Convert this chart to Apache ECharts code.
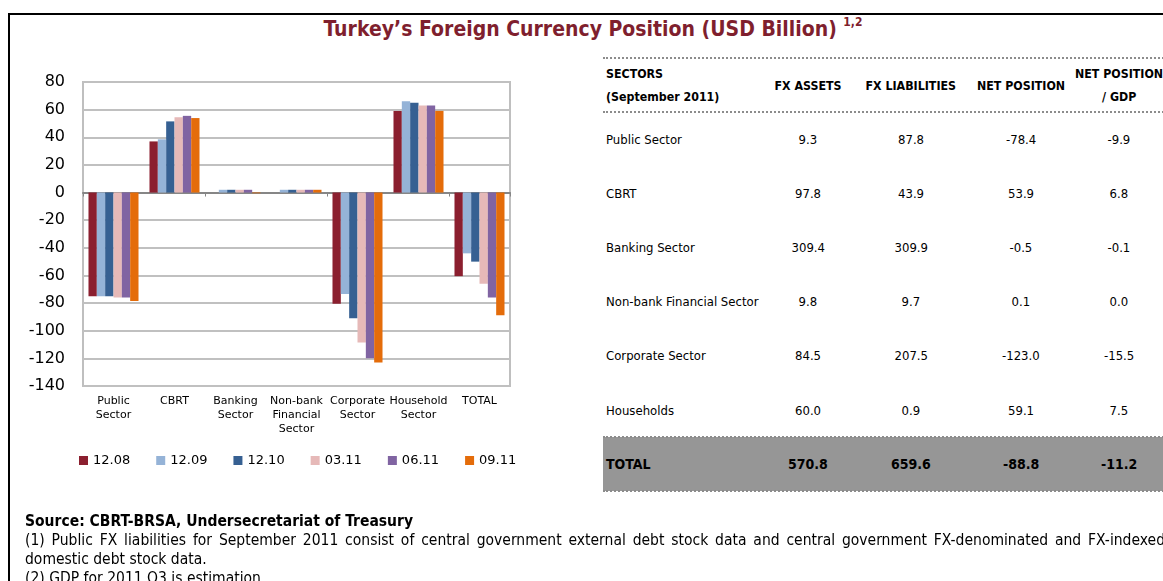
<!DOCTYPE html>
<html>
<head>
<meta charset="utf-8">
<script src="https://cdn.jsdelivr.net/npm/echarts@6/dist/echarts.min.js"></script>
<style>
  html, body { margin: 0; padding: 0; background: #fff; }
  #page { position: relative; width: 1163px; height: 581px; overflow: hidden; }
  #frame { position: absolute; left: 8px; top: 13px; width: 1300px; height: 700px;
    border-top: 2px solid #000; border-left: 2px solid #000; }
  #title { position: absolute; left: 0; width: 1186px; top: 17px; text-align: center;
    font: bold 21px 'DejaVu Sans Condensed', sans-serif; color: #7f1f2e; }
  #title sup { font-size: 12px; position: relative; top: -2px; }
  #chart { position: absolute; left: 0; top: 0; width: 600px; height: 581px; }
  .cell { position: absolute; font: 13px 'DejaVu Sans Condensed', sans-serif; color: #000; white-space: nowrap; }
  .hd { font: bold 12.3px 'DejaVu Sans Condensed', sans-serif; }
  .tot { font: bold 14px 'DejaVu Sans Condensed', sans-serif; }
  .hline { position: absolute; left: 603px; width: 600px; border-top: 2px dotted #8c8c8c; }
  #totalBand { position: absolute; left: 603px; top: 437px; width: 600px; height: 54px; background: #969696; }
  #notes { position: absolute; left: 25px; top: 512px; width: 1140px;
    font: 15.5px 'DejaVu Sans Condensed', sans-serif; line-height: 19px; color: #000; text-align: justify; }
  #notes b { font-weight: bold; }
</style>
</head>
<body>
<div id="page">
  <div id="frame"></div>
  <div id="title">Turkey’s Foreign Currency Position (USD Billion) <sup>1,2</sup></div>
  <div id="chart"></div>
  <div id="totalBand"></div>
  <div id="table"></div>
  <div id="notes">
    <b>Source: CBRT-BRSA, Undersecretariat of Treasury</b><br>
    (1) Public FX liabilities for September 2011 consist of central government external debt stock data and central government FX-denominated and FX-indexed domestic debt stock data.<br>
    (2) GDP for 2011 Q3 is estimation
  </div>
</div>
<script>
// chart data
const categories = ['Public\nSector', 'CBRT', 'Banking\nSector', 'Non-bank\nFinancial\nSector', 'Corporate\nSector', 'Household\nSector', 'TOTAL']
const periods = ['12.08', '12.09', '12.10', '03.11', '06.11', '09.11']
const s1208 = [-75, 37, 0, 0, -80.5, 59, -60.5]
const s1209 = [-75, 38.5, 2, 2, -73.5, 66, -44]
const s1210 = [-75, 51.5, 2, 2, -91, 65, -50]
const s0311 = [-76, 54.5, 2, 2, -108.5, 63, -66]
const s0611 = [-76, 55.5, 2, 2, -120, 63, -76]
const s0911 = [-78.4, 53.9, -0.5, 2, -123, 59.1, -88.8]
const yTicks = { min: -140, max: 80, step: 20 }
const colors = ['#8b1f2f', '#95b3d7', '#366092', '#e6b9b8', '#8064a2', '#e46c0a']

// table data
const sectors = ['Public Sector', 'CBRT', 'Banking Sector', 'Non-bank Financial Sector', 'Corporate Sector', 'Households']
const fxAssets = [9.3, 97.8, 309.4, 9.8, 84.5, 60.0]
const fxLiabilities = [87.8, 43.9, 309.9, 9.7, 207.5, 0.9]
const netPosition = [-78.4, 53.9, -0.5, 0.1, -123.0, 59.1]
const netToGdp = [-9.9, 6.8, -0.1, 0.0, -15.5, 7.5]
const totals = [570.8, 659.6, -88.8, -11.2]

const seriesValues = [s1208, s1209, s1210, s0311, s0611, s0911]

const myChart = echarts.init(document.getElementById('chart'))
const option = {
  color: colors,
  animation: false,
  grid: {
    left: 83,
    right: 90,
    top: 82,
    bottom: 195,
    show: true,
    borderColor: '#bfbfbf',
    borderWidth: 2
  },
  legend: {
    left: 79,
    top: 454,
    padding: 0,
    icon: 'rect',
    itemWidth: 9,
    itemHeight: 9,
    itemGap: 26,
    textStyle: {
      fontFamily: 'DejaVu Sans',
      fontSize: 13,
      color: '#000'
    },
    data: periods
  },
  xAxis: [
    {
      type: 'category',
      data: categories,
      position: 'bottom',
      axisLine: { show: false, onZero: false },
      axisTick: { show: false },
      axisLabel: {
        interval: 0,
        margin: 8,
        color: '#000',
        fontFamily: 'DejaVu Sans',
        fontSize: 11,
        lineHeight: 14,
        verticalAlign: 'top'
      }
    },
    {
      // zero line with the category ticks
      type: 'category',
      data: categories,
      position: 'top',
      axisLine: {
        onZero: true,
        lineStyle: { color: '#868686', width: 2 }
      },
      axisTick: {
        show: true,
        inside: true,
        length: 4,
        lineStyle: { color: '#868686' }
      },
      axisLabel: { show: false }
    }
  ],
  yAxis: {
    type: 'value',
    min: yTicks.min,
    max: yTicks.max,
    interval: yTicks.step,
    axisLine: { show: false },
    axisTick: { show: false },
    axisLabel: {
      margin: 18,
      color: '#000',
      fontFamily: 'DejaVu Sans',
      fontSize: 16
    },
    splitLine: {
      lineStyle: { color: '#c0c0c0', width: 2 }
    }
  },
  series: periods.map(function(p, i) {
    return {
      name: p,
      type: 'bar',
      xAxisIndex: 0,
      barGap: '0%',
      barCategoryGap: '18%',
      data: seriesValues[i]
    }
  })
}
myChart.setOption(option)

// table, built from the arrays above
const table = document.getElementById('table')
function addCell(text, x, y, align, cls) {
  const d = document.createElement('div')
  d.className = 'cell ' + (cls || '')
  d.textContent = text
  table.appendChild(d)
  const w = d.offsetWidth
  const h = d.offsetHeight
  let left = x
  if (align === 'center') left = x - w / 2
  d.style.left = left + 'px'
  d.style.top = (y - h / 2) + 'px'
}
function addLine(y) {
  const d = document.createElement('div')
  d.className = 'hline'
  d.style.top = y + 'px'
  table.appendChild(d)
}
const colX = [808, 911, 1021, 1119]
const rowY = [139, 193, 247, 301, 355, 410]
addLine(57)
addLine(111)
addLine(436)
addLine(490)
addCell('SECTORS', 606, 74, 'left', 'hd')
addCell('(September 2011)', 606, 97, 'left', 'hd')
addCell('FX ASSETS', colX[0], 86, 'center', 'hd')
addCell('FX LIABILITIES', colX[1], 86, 'center', 'hd')
addCell('NET POSITION', colX[2], 86, 'center', 'hd')
addCell('NET POSITION', colX[3], 74, 'center', 'hd')
addCell('/ GDP', colX[3], 97, 'center', 'hd')
sectors.forEach(function(s, i) {
  addCell(s, 606, rowY[i], 'left')
  addCell(fxAssets[i].toFixed(1), colX[0], rowY[i], 'center')
  addCell(fxLiabilities[i].toFixed(1), colX[1], rowY[i], 'center')
  addCell(netPosition[i].toFixed(1), colX[2], rowY[i], 'center')
  addCell(netToGdp[i].toFixed(1), colX[3], rowY[i], 'center')
})
addCell('TOTAL', 606, 464, 'left', 'tot')
totals.forEach(function(v, i) {
  addCell(v.toFixed(1), colX[i], 464, 'center', 'tot')
})
</script>
</body>
</html>
